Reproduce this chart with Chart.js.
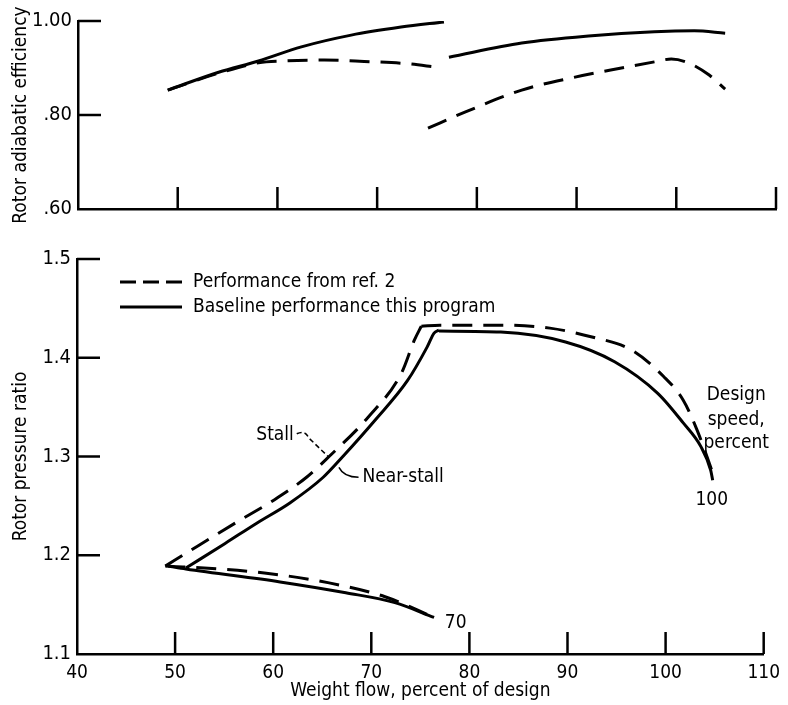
<!DOCTYPE html>
<html>
<head>
<meta charset="utf-8">
<title>Rotor performance</title>
<script src="https://cdn.jsdelivr.net/npm/chart.js@4.4.1/dist/chart.umd.min.js"></script>
<style>
  body { margin: 0; background: #fff; }
  #wrap { position: relative; width: 788px; height: 705px; }
  #top { position: absolute; left: 0; top: 0; }
  #bottom { position: absolute; left: 0; top: 230px; }
</style>
</head>
<body>
<div id="wrap">
  <canvas id="top" width="788" height="230"></canvas>
  <canvas id="bottom" width="788" height="475"></canvas>
</div>
<script>
// axis ticks
const flowTicks = [40, 50, 60, 70, 80, 90, 100, 110];
const effTicks = [0.6, 0.8, 1.0];
const effTickLabels = [".60", ".80", "1.00"];
const prTicks = [1.1, 1.2, 1.3, 1.4, 1.5];
const prTickLabels = ["1.1", "1.2", "1.3", "1.4", "1.5"];

// rotor adiabatic efficiency, 70 % speed
const eff70Flow = [49.0, 54.1, 58.1, 62.4, 67.4, 72.4, 76.7];
const eff70Base = [0.853, 0.891, 0.915, 0.945, 0.970, 0.987, 0.998];
const eff70RefFlow = [49.0, 54.1, 58.1, 60.7, 64.7, 68.7, 73.1, 75.9];
const eff70Ref = [0.853, 0.889, 0.911, 0.915, 0.917, 0.914, 0.909, 0.902];

// rotor adiabatic efficiency, 100 % speed
const eff100Flow = [77.2, 84.5, 91.2, 97.8, 101.8, 104.9];
const eff100Base = [0.923, 0.953, 0.968, 0.977, 0.979, 0.974];
const eff100RefFlow = [75.1, 78.8, 84.5, 89.5, 94.5, 97.8, 99.5, 101.2, 103.3, 104.9];
const eff100Ref = [0.772, 0.806, 0.853, 0.879, 0.900, 0.913, 0.919, 0.911, 0.885, 0.855];

// pressure ratio: stall (ref. 2) and near-stall (this program) lines
const stallRefFlow = [49.0, 51.6, 56.7, 60.1, 63.4, 65.7, 69.7, 73.1, 74.4, 75.1];
const stallRefPR = [1.189, 1.205, 1.236, 1.256, 1.279, 1.300, 1.340, 1.385, 1.418, 1.432];
const nearStallFlow = [51.1, 55.1, 58.4, 61.7, 65.1, 67.1, 70.4, 73.7, 75.7, 76.4, 76.9];
const nearStallPR = [1.187, 1.212, 1.233, 1.253, 1.279, 1.300, 1.337, 1.377, 1.411, 1.425, 1.428];

// pressure ratio, 100 % speed
const speed100RefFlow = [75.1, 77.0, 83.2, 88.2, 92.5, 96.5, 99.8, 101.8, 103.2, 104.6, 104.8];
const speed100RefPR = [1.432, 1.433, 1.433, 1.430, 1.421, 1.408, 1.381, 1.357, 1.327, 1.289, 1.283];
const speed100Flow = [76.9, 83.2, 89.8, 94.8, 99.2, 101.8, 103.6, 104.6, 104.8];
const speed100PR = [1.427, 1.426, 1.416, 1.396, 1.364, 1.334, 1.310, 1.286, 1.276];

// pressure ratio, 70 % speed
const speed70RefFlow = [49.0, 51.3, 59.1, 65.7, 71.4, 76.4];
const speed70RefPR = [1.189, 1.188, 1.182, 1.172, 1.158, 1.137];
const speed70Flow = [49.3, 51.1, 60.7, 67.4, 72.4, 76.4];
const speed70PR = [1.189, 1.186, 1.173, 1.162, 1.152, 1.137];

const FONT = "'Liberation Sans Narrow', 'DejaVu Sans Condensed', sans-serif";
const DASH = [20, 11];

function pts(xs, ys) {
	return xs.map((x, i) => ({ x: x, y: ys[i] }));
}

function curve(label, xs, ys, dashed) {
	return {
		label: label,
		data: pts(xs, ys),
		showLine: true,
		borderColor: "#000",
		borderWidth: 3,
		borderDash: dashed ? DASH : [],
		pointRadius: 0,
		cubicInterpolationMode: "monotone",
		fill: false,
	};
}

// ticks pointing into the plot, like the original drawing
const innerTicks = {
	id: "innerTicks",
	afterDatasetsDraw(chart) {
		const { ctx, chartArea, scales } = chart;
		ctx.save();
		ctx.strokeStyle = "#000";
		ctx.lineWidth = 2.5;
		scales.x.ticks.forEach((t) => {
			if (t.value === scales.x.min) return;
			const px = scales.x.getPixelForValue(t.value);
			ctx.beginPath();
			ctx.moveTo(px, chartArea.bottom);
			ctx.lineTo(px, chartArea.bottom - 22);
			ctx.stroke();
		});
		scales.y.ticks.forEach((t) => {
			if (t.value === scales.y.min) return;
			const py = scales.y.getPixelForValue(t.value);
			ctx.beginPath();
			ctx.moveTo(chartArea.left, py);
			ctx.lineTo(chartArea.left + 23, py);
			ctx.stroke();
		});
		ctx.restore();
	},
};

// legend and notes of the pressure ratio plot
const notes = {
	id: "notes",
	afterDraw(chart) {
		const { ctx, chartArea, scales } = chart;
		const X = (v) => scales.x.getPixelForValue(v);
		const Y = (v) => scales.y.getPixelForValue(v);
		ctx.save();
		ctx.fillStyle = "#000";
		ctx.strokeStyle = "#000";
		ctx.font = "19px " + FONT;
		ctx.textBaseline = "middle";

		// legend
		const lx = chartArea.left + 43;
		const ly1 = chartArea.top + 23;
		const ly2 = chartArea.top + 48;
		ctx.lineWidth = 3;
		ctx.setLineDash([16, 7]);
		ctx.beginPath();
		ctx.moveTo(lx, ly1);
		ctx.lineTo(lx + 62, ly1);
		ctx.stroke();
		ctx.setLineDash([]);
		ctx.beginPath();
		ctx.moveTo(lx, ly2);
		ctx.lineTo(lx + 62, ly2);
		ctx.stroke();
		ctx.textAlign = "left";
		ctx.fillText("Performance from ref. 2", lx + 73, ly1);
		ctx.fillText("Baseline performance this program", lx + 73, ly2);

		// Stall / Near-stall
		ctx.textAlign = "right";
		ctx.fillText("Stall", X(62.1), Y(1.322));
		ctx.lineWidth = 1.5;
		ctx.setLineDash([5, 3]);
		ctx.beginPath();
		ctx.moveTo(X(62.4), Y(1.323));
		ctx.quadraticCurveTo(X(63.3), Y(1.327), X(63.6), Y(1.319));
		ctx.lineTo(X(65.6), Y(1.300));
		ctx.stroke();
		ctx.setLineDash([]);
		ctx.beginPath();
		ctx.moveTo(X(66.7), Y(1.289));
		ctx.quadraticCurveTo(X(67.2), Y(1.279), X(68.7), Y(1.279));
		ctx.stroke();
		ctx.textAlign = "left";
		ctx.fillText("Near-stall", X(69.1), Y(1.279));

		// speed labels
		ctx.textAlign = "center";
		ctx.fillText("Design", X(107.2), Y(1.362));
		ctx.fillText("speed,", X(107.2), Y(1.337));
		ctx.fillText("percent", X(107.2), Y(1.314));
		ctx.fillText("100", X(104.7), Y(1.256));
		ctx.fillText("70", X(78.6), Y(1.131));
		ctx.restore();
	},
};

function flowAxis(showLabels, height) {
	return {
		type: "linear",
		min: 40,
		max: 110,
		afterBuildTicks: (s) => { s.ticks = flowTicks.map((v) => ({ value: v })); },
		afterFit: (s) => { s.height = height; },
		grid: { display: false, drawTicks: false },
		border: { display: true, color: "#000", width: 2.5 },
		ticks: { display: showLabels, color: "#000", padding: 8, font: { family: FONT, size: 19 } },
		title: {
			display: showLabels,
			text: "Weight flow, percent of design",
			color: "#000",
			font: { family: FONT, size: 19 },
			padding: { top: 0, bottom: 3 },
		},
	};
}

function valueAxis(min, max, ticks, labels, title, width) {
	return {
		type: "linear",
		min: min,
		max: max,
		afterBuildTicks: (s) => { s.ticks = ticks.map((v) => ({ value: v })); },
		afterFit: (s) => { s.width = width; },
		grid: { display: false, drawTicks: false },
		border: { display: true, color: "#000", width: 2.5 },
		ticks: {
			color: "#000",
			padding: 6,
			font: { family: FONT, size: 20 },
			callback: (v, i) => labels[i],
		},
		title: {
			display: true,
			text: title,
			color: "#000",
			font: { family: FONT, size: 19 },
			padding: { top: 10, bottom: 0 },
		},
	};
}

const ctx1 = document.getElementById("top").getContext("2d");
const topChart = new Chart(ctx1, {
	type: "scatter",
	data: {
		datasets: [
			curve("Baseline performance this program, 70", eff70Flow, eff70Base, false),
			curve("Performance from ref. 2, 70", eff70RefFlow, eff70Ref, true),
			curve("Baseline performance this program, 100", eff100Flow, eff100Base, false),
			curve("Performance from ref. 2, 100", eff100RefFlow, eff100Ref, true),
		],
	},
	options: {
		responsive: false,
		animation: false,
		layout: { padding: { top: 21, right: 12, left: 0, bottom: 0 } },
		plugins: { legend: { display: false }, tooltip: { enabled: false } },
		scales: {
			x: flowAxis(false, 21),
			y: valueAxis(0.6, 1.0, effTicks, effTickLabels, "Rotor adiabatic efficiency", 78),
		},
	},
	plugins: [innerTicks],
});

const ctx2 = document.getElementById("bottom").getContext("2d");
const bottomChart = new Chart(ctx2, {
	type: "scatter",
	data: {
		datasets: [
			curve("Stall, ref. 2", stallRefFlow, stallRefPR, true),
			curve("Near-stall", nearStallFlow, nearStallPR, false),
			curve("Performance from ref. 2, 100", speed100RefFlow, speed100RefPR, true),
			curve("Baseline performance this program, 100", speed100Flow, speed100PR, false),
			curve("Performance from ref. 2, 70", speed70RefFlow, speed70RefPR, true),
			curve("Baseline performance this program, 70", speed70Flow, speed70PR, false),
		],
	},
	options: {
		responsive: false,
		animation: false,
		layout: { padding: { top: 29, right: 15, left: 0, bottom: 0 } },
		plugins: { legend: { display: false }, tooltip: { enabled: false } },
		scales: {
			x: flowAxis(true, 51),
			y: valueAxis(1.1, 1.5, prTicks, prTickLabels, "Rotor pressure ratio", 77),
		},
	},
	plugins: [innerTicks, notes],
});
</script>
</body>
</html>
